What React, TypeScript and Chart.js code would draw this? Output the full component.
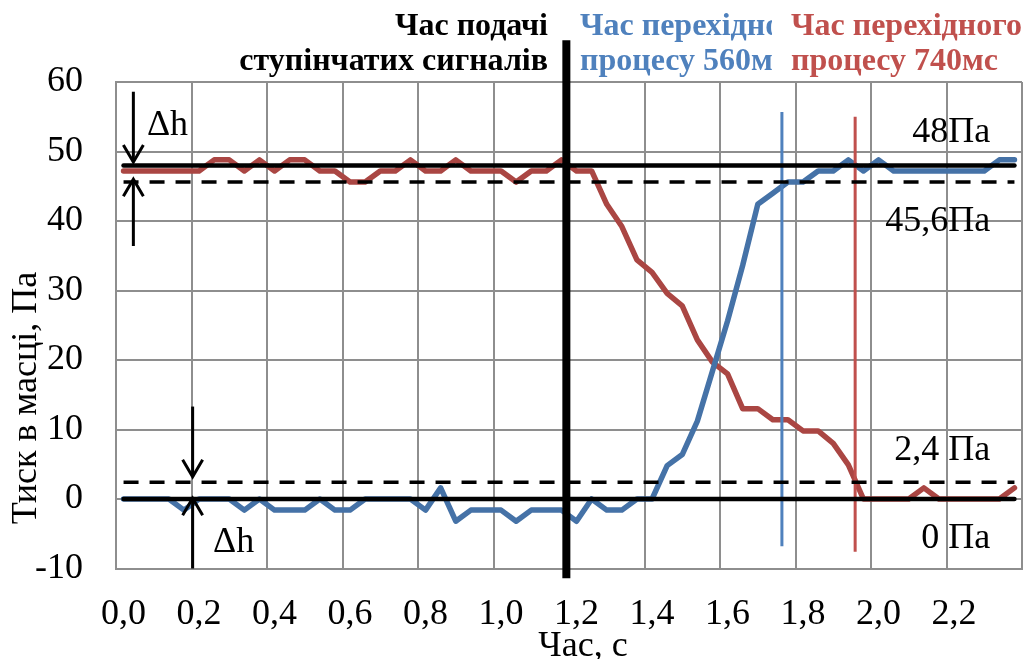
import React, { useEffect, useRef } from 'react';
import { Chart, registerables } from 'chart.js';

Chart.register(...registerables);

const FONT = "'Liberation Serif', 'Times New Roman', serif";

// sampling times (s) — one category per sample
const times = [
  0.00, 0.04, 0.08, 0.12, 0.16, 0.20, 0.24, 0.28, 0.32, 0.36,
  0.40, 0.44, 0.48, 0.52, 0.56, 0.60, 0.64, 0.68, 0.72, 0.76,
  0.80, 0.84, 0.88, 0.92, 0.96, 1.00, 1.04, 1.08, 1.12, 1.16,
  1.20, 1.24, 1.28, 1.32, 1.36, 1.40, 1.44, 1.48, 1.52, 1.56,
  1.60, 1.64, 1.68, 1.72, 1.76, 1.80, 1.84, 1.88, 1.92, 1.96,
  2.00, 2.04, 2.08, 2.12, 2.16, 2.20, 2.24, 2.28, 2.32, 2.36,
];

// pressure rising 0 -> 48 Pa (blue)
const risingPressure = [
  0, 0, 0, 0, -1.6, 0, 0, 0, -1.6, 0,
  -1.6, -1.6, -1.6, 0, -1.6, -1.6, 0, 0, 0, 0,
  -1.6, 1.6, -3.2, -1.6, -1.6, -1.6, -3.2, -1.6, -1.6, -1.6,
  -3.2, 0, -1.6, -1.6, 0, 0, 4.8, 6.4, 11.2, 18.4,
  25.6, 33.6, 42.4, 44.0, 45.6, 45.6, 47.2, 47.2, 48.8, 47.2,
  48.8, 47.2, 47.2, 47.2, 47.2, 47.2, 47.2, 47.2, 48.8, 48.8,
];

// pressure falling 48 -> 0 Pa (red)
const fallingPressure = [
  47.2, 47.2, 47.2, 47.2, 47.2, 47.2, 48.8, 48.8, 47.2, 48.8,
  47.2, 48.8, 48.8, 47.2, 47.2, 45.6, 45.6, 47.2, 47.2, 48.8,
  47.2, 47.2, 48.8, 47.2, 47.2, 47.2, 45.6, 47.2, 47.2, 48.8,
  47.2, 47.2, 42.4, 39.2, 34.4, 32.6, 29.6, 27.8, 22.9, 19.7,
  18.0, 13.0, 13.0, 11.4, 11.4, 9.8, 9.8, 8.0, 4.9, 0,
  0, 0, 0, 1.6, 0, 0, 0, 0, 0, 1.6,
];

// horizontal reference levels
const levelValues = [48, 45.6, 2.4, 0];
const levelDashed = [false, true, true, false];
const levelLabels = ['48Па', '45,6Па', '2,4 Па', '0 Па'];
const levelLabelY = [51.4, 38.5, 5.6, -7.1];
const levelLabelX = 2.316;

// vertical markers (time measured on the axis span 0..2.4 s)
const markerTimes = [1.193, 1.764, 1.958];
const markerTop = [66.0, 55.7, 55.0];
const markerBottom = [-11.4, -6.8, -7.6];
const markerColors = ['#000000', '#4F81BD', '#C0504D'];

// Δh arrows
const arrowX = [0.046, 0.046, 0.203, 0.203];
const arrowFrom = [58.6, 36.4, 13.3, -10];
const arrowTo = [48.5, 46.0, 3.2, 0.1];
const deltaLabelX = [0.082, 0.257];
const deltaLabelY = [52.4, -7.6];

const yMin = -10;
const yMax = 60;
const yStep = 10;

const catLabels = times.map((t) => t.toFixed(2).replace('.', ','));
const tickText = (t: number) => t.toFixed(1).replace('.', ',');

const GRID = '#8e8e8e';
const BLUE = '#4572A7';
const RED = '#AA4643';

const annotations = {
  id: 'annotations',
  afterDatasetsDraw(chart: any) {
    const ctx = chart.ctx as CanvasRenderingContext2D;
    const xs = chart.scales.xa;
    const ys = chart.scales.y;
    ctx.save();
    // arrows
    ctx.strokeStyle = '#000';
    ctx.lineWidth = 3;
    for (let i = 0; i < arrowX.length; i++) {
      const x = xs.getPixelForValue(arrowX[i]);
      const y0 = ys.getPixelForValue(arrowFrom[i]);
      const y1 = ys.getPixelForValue(arrowTo[i]);
      const dir = Math.sign(y1 - y0);
      ctx.beginPath();
      ctx.moveTo(x, y0);
      ctx.lineTo(x, y1);
      ctx.stroke();
      ctx.beginPath();
      ctx.moveTo(x - 10, y1 - dir * 17);
      ctx.lineTo(x, y1);
      ctx.lineTo(x + 10, y1 - dir * 17);
      ctx.stroke();
    }
    // level labels
    ctx.fillStyle = '#000';
    ctx.font = `36px ${FONT}`;
    ctx.textBaseline = 'alphabetic';
    ctx.textAlign = 'right';
    for (let i = 0; i < levelLabels.length; i++) {
      ctx.fillText(levelLabels[i], xs.getPixelForValue(levelLabelX), ys.getPixelForValue(levelLabelY[i]));
    }
    ctx.textAlign = 'left';
    for (let i = 0; i < deltaLabelX.length; i++) {
      ctx.fillText('Δh', xs.getPixelForValue(deltaLabelX[i]), ys.getPixelForValue(deltaLabelY[i]));
    }
    ctx.restore();
  },
  afterDraw(chart: any) {
    const ctx = chart.ctx as CanvasRenderingContext2D;
    ctx.save();
    ctx.fillStyle = '#000';
    ctx.font = `36px ${FONT}`;
    // x title
    ctx.textAlign = 'center';
    ctx.textBaseline = 'alphabetic';
    ctx.fillText('Час, с', 583, 656);
    // y title
    ctx.save();
    ctx.translate(27, 398);
    ctx.rotate(-Math.PI / 2);
    ctx.textBaseline = 'middle';
    ctx.fillText('Тиск в масці, Па', 0, 0);
    ctx.restore();
    // top notes
    ctx.font = `bold 32px ${FONT}`;
    ctx.textAlign = 'right';
    ctx.fillText('Час подачі', 548, 35);
    ctx.fillText('ступінчатих сигналів', 548, 70);
    ctx.textAlign = 'left';
    ctx.save();
    ctx.beginPath();
    ctx.rect(575, 0, 197, 90);
    ctx.clip();
    ctx.fillStyle = '#4F81BD';
    ctx.fillText('Час перехідного', 580, 35);
    ctx.fillText('процесу 560мс', 580, 70);
    ctx.restore();
    ctx.fillStyle = '#C0504D';
    ctx.fillText('Час перехідного', 791, 35);
    ctx.fillText('процесу 740мс', 791, 70);
    ctx.restore();
  },
};

export default function App() {
  const ref = useRef<HTMLCanvasElement>(null);
  useEffect(() => {
    if (!ref.current) return;
    const last = catLabels.length - 1;
    const levelSets = levelValues.map((v, i) => ({
      type: 'line' as const,
      data: [
        { x: catLabels[0], y: v },
        { x: catLabels[last], y: v },
      ],
      borderColor: '#000',
      borderWidth: levelDashed[i] ? 3.5 : 4.5,
      borderDash: levelDashed[i] ? [15, 11] : [],
      borderCapStyle: levelDashed[i] ? 'butt' : 'round',
      pointRadius: 0,
      order: 0,
    }));
    const markerSets = markerTimes.map((t, i) => ({
      type: 'line' as const,
      xAxisID: 'xa',
      data: [
        { x: t, y: markerTop[i] },
        { x: t, y: markerBottom[i] },
      ],
      borderColor: markerColors[i],
      borderWidth: i === 0 ? 8 : 3,
      pointRadius: 0,
      clip: false as any,
      order: 1,
    }));
    const chart = new Chart(ref.current, {
      type: 'line',
      data: {
        labels: catLabels,
        datasets: [
          ...(levelSets as any[]),
          ...(markerSets as any[]),
          {
            data: risingPressure,
            borderColor: BLUE,
            borderWidth: 5.5,
            pointRadius: 0,
            borderJoinStyle: 'round',
            borderCapStyle: 'round',
            order: 2,
          },
          {
            data: fallingPressure,
            borderColor: RED,
            borderWidth: 5.5,
            pointRadius: 0,
            borderJoinStyle: 'round',
            borderCapStyle: 'round',
            order: 3,
          },
        ],
      },
      options: {
        responsive: false,
        animation: false,
        devicePixelRatio: 1,
        layout: { padding: { top: 82, right: 2, left: 0, bottom: 0 } },
        plugins: { legend: { display: false }, tooltip: { enabled: false } },
        scales: {
          x: {
            type: 'category',
            offset: true,
            grid: {
              offset: true,
              drawTicks: false,
              lineWidth: 2,
              color: (c: any) => (c.index === undefined || c.index % 5 === 0 ? GRID : 'rgba(0,0,0,0)'),
            },
            border: { color: GRID, width: 2 },
            ticks: {
              autoSkip: false,
              maxRotation: 0,
              padding: 24,
              color: '#000',
              font: { family: FONT, size: 36 },
              callback: (_v: any, i: number) => (i % 5 === 0 ? tickText(times[i]) : ''),
            },
            afterFit: (s: any) => {
              s.height = 90.5;
              s.paddingLeft = 0;
              s.paddingRight = 0;
            },
          },
          xa: {
            type: 'linear',
            display: false,
            min: 0,
            max: 2.4,
          },
          y: {
            min: yMin,
            max: yMax,
            grid: { color: GRID, lineWidth: 2, drawTicks: false },
            border: { color: GRID, width: 2 },
            ticks: {
              stepSize: yStep,
              padding: 33,
              color: '#000',
              font: { family: FONT, size: 36 },
            },
            afterFit: (s: any) => {
              s.width = 116;
              s.paddingTop = 0;
              s.paddingBottom = 0;
            },
          },
        },
      } as any,
      plugins: [annotations],
    });
    return () => chart.destroy();
  }, []);
  return (
    <div style={{ position: 'fixed', left: 0, top: 0, width: 1024, height: 659 }}>
      <canvas ref={ref} width={1024} height={659} />
    </div>
  );
}
